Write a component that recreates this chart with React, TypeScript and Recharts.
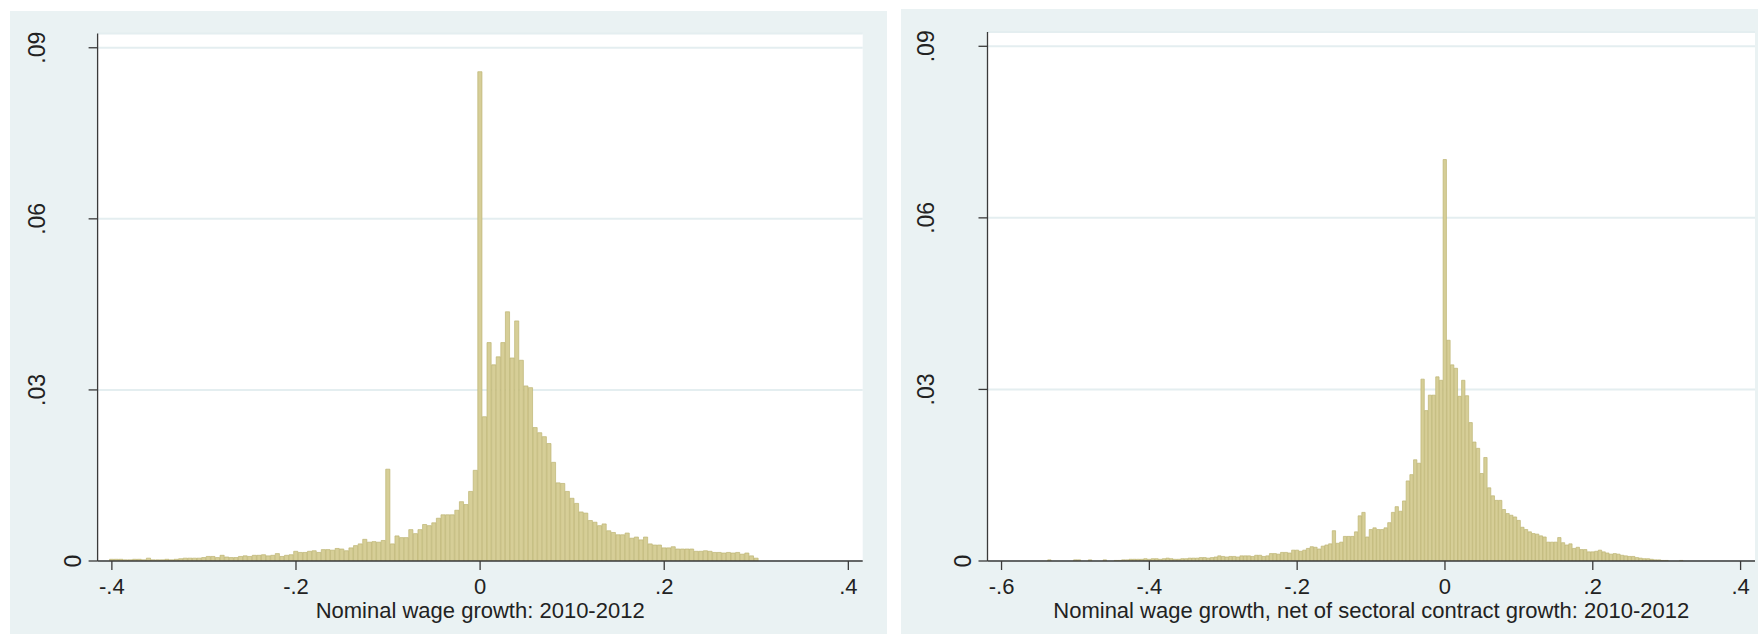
import React from 'react';
import { BarChart, Bar, XAxis, YAxis, CartesianGrid, Label } from 'recharts';

// histogram bins are 0.005 wide, centred on multiples of 0.005
const BIN_WIDTH = 0.005;

// left panel: nominal wage growth 2010-2012, bins from -0.40 to 0.30
const wageStart = -0.4;
const wageDensity = [
  0.0003, 0.0003, 0.0003, 0.0002, 0.0002, 0.0003, 0.0003, 0.0002, 0.0005, 0.0002,
  0.0002, 0.0002, 0.0003, 0.0002, 0.0003, 0.0004, 0.0005, 0.0005, 0.0005, 0.0005,
  0.0006, 0.0008, 0.0008, 0.0006, 0.001, 0.0007, 0.0006, 0.0006, 0.0008, 0.0009,
  0.0008, 0.001, 0.001, 0.0011, 0.0009, 0.001, 0.0013, 0.0008, 0.001, 0.0011,
  0.0017, 0.0015, 0.0015, 0.0017, 0.0018, 0.0015, 0.002, 0.002, 0.0019, 0.0022,
  0.0021, 0.0018, 0.0023, 0.0027, 0.003, 0.0038, 0.0033, 0.0034, 0.0033, 0.0036,
  0.0161, 0.003, 0.0044, 0.0041, 0.0041, 0.0055, 0.0048, 0.0055, 0.0064, 0.0062,
  0.0067, 0.0075, 0.0081, 0.0081, 0.0081, 0.0089, 0.0104, 0.0099, 0.0122, 0.0159,
  0.0858, 0.0253, 0.0383, 0.0344, 0.0358, 0.0383, 0.0437, 0.0356, 0.0421, 0.0352,
  0.0307, 0.0304, 0.0234, 0.0225, 0.0218, 0.0206, 0.0173, 0.0137, 0.0136, 0.0122,
  0.011, 0.0101, 0.0086, 0.0084, 0.0071, 0.0068, 0.0062, 0.0065, 0.0053, 0.005,
  0.0046, 0.0046, 0.0049, 0.004, 0.0042, 0.0037, 0.0042, 0.003, 0.0028, 0.0028,
  0.0023, 0.0023, 0.0025, 0.0021, 0.0021, 0.0021, 0.0021, 0.0017, 0.0017, 0.0018,
  0.0017, 0.0015, 0.0015, 0.0014, 0.0015, 0.0014, 0.0015, 0.0012, 0.0014, 0.0009,
  0.0005,
];

// right panel: net of sectoral contract growth, bins from -0.535 to 0.32
const netStart = -0.535;
const netDensity = [
  0.0002, 0, 0, 0, 0, 0, 0, 0.0002, 0.0002, 0,
  0, 0.0002, 0, 0, 0, 0.0002, 0, 0, 0.0001, 0.0001,
  0.0002, 0.0002, 0.0003, 0.0003, 0.0003, 0.0003, 0.0004, 0.0003, 0.0004, 0.0004,
  0.0003, 0.0004, 0.0005, 0.0004, 0.0003, 0.0003, 0.0004, 0.0004, 0.0005, 0.0005,
  0.0005, 0.0006, 0.0006, 0.0005, 0.0006, 0.0007, 0.0009, 0.0008, 0.0007, 0.0008,
  0.0008, 0.0007, 0.0009, 0.0009, 0.0009, 0.0008, 0.001, 0.001, 0.0008, 0.0009,
  0.0013, 0.0013, 0.0012, 0.0015, 0.0015, 0.0014, 0.0019, 0.0019, 0.0017, 0.0019,
  0.0022, 0.0025, 0.0024, 0.0021, 0.0026, 0.0028, 0.003, 0.0053, 0.0031, 0.0033,
  0.0043, 0.0043, 0.0043, 0.0051, 0.0079, 0.0085, 0.0042, 0.0055, 0.0058, 0.0055,
  0.0055, 0.0058, 0.0067, 0.0085, 0.0095, 0.0087, 0.0105, 0.014, 0.0151, 0.0177,
  0.0171, 0.0318, 0.0263, 0.029, 0.029, 0.0322, 0.0316,
  0.0702, 0.0386, 0.0343, 0.0337, 0.0288, 0.0316, 0.0289, 0.0242, 0.0208, 0.0197,
  0.0153, 0.0181, 0.0128, 0.0114, 0.0106, 0.0106, 0.009, 0.0083, 0.008, 0.0077,
  0.0071, 0.0059, 0.0055, 0.0051, 0.0048, 0.0047, 0.0044, 0.0042, 0.0033, 0.0033,
  0.0033, 0.0041, 0.0032, 0.0028, 0.003, 0.0022, 0.0024, 0.002, 0.002, 0.0016,
  0.0016, 0.0017, 0.0019, 0.0016, 0.0014, 0.0012, 0.0013, 0.0012, 0.001, 0.0009,
  0.0008, 0.0008, 0.0006, 0.0005, 0.0004, 0.0004, 0.0003, 0.0002, 0.0002, 0.0001,
  0.0001, 0, 0, 0, 0.0001,
];

const yTicks = [0, 0.03, 0.06, 0.09];
const wageTicks = [-0.4, -0.2, 0, 0.2, 0.4];
const netTicks = [-0.6, -0.4, -0.2, 0, 0.2, 0.4];

const wageTitle = 'Nominal wage growth: 2010-2012';
const netTitle = 'Nominal wage growth, net of sectoral contract growth: 2010-2012';

const FONT = '"Liberation Sans", Arial, Helvetica, sans-serif';
const PANEL_BG = '#eaf2f3';
const GRID = '#e4eef0';
const AXIS = '#3a3a3a';
const BAR_FILL = '#d6ce97';
const BAR_STROKE = '#bdb472';
const TEXT = '#222';
const TICK_FONT = 22;

const toBins = (start: number, values: number[]) =>
  values.map((d, i) => ({ x: +(start + i * BIN_WIDTH).toFixed(3), d }));

// stata style labels: no leading zero
const fmt = (v: number) => {
  if (v === 0) return '0';
  return String(+v.toFixed(2)).replace('0.', '.');
};

const YTick = ({ x, y, payload }: any) => {
  const label = fmt(payload.value);
  const gap = label.length > 1 ? 44 : 8;
  const tx = x - gap;
  return (
    <text
      x={tx}
      y={y}
      transform={`rotate(-90 ${tx} ${y})`}
      textAnchor="middle"
      fontSize={23}
      fontFamily={FONT}
      fill={TEXT}
    >
      {label}
    </text>
  );
};

interface HistProps {
  data: { x: number; d: number }[];
  domain: [number, number];
  ticks: number[];
  title: string;
  width: number;
  height: number;
  margin: { top: number; right: number; left: number; bottom: number };
}

const Y_AXIS_W = 80;
const X_AXIS_H = 58;

function Histogram({ data, domain, ticks, title, width, height, margin }: HistProps) {
  const plotW = width - margin.left - margin.right - Y_AXIS_W;
  const barSize = (BIN_WIDTH * plotW) / (domain[1] - domain[0]);
  return (
    <BarChart
      width={width}
      height={height}
      data={data}
      margin={margin}
      barCategoryGap={0}
      barGap={0}
    >
      <CartesianGrid vertical={false} stroke={GRID} strokeWidth={2} fill="#ffffff" />
      <XAxis
        type="number"
        dataKey="x"
        domain={domain}
        ticks={ticks}
        allowDataOverflow
        height={X_AXIS_H}
        tickFormatter={fmt}
        tickSize={9}
        tickMargin={8}
        stroke={AXIS}
        tickLine={{ stroke: AXIS, strokeWidth: 1.3 }}
        axisLine={{ stroke: AXIS, strokeWidth: 1.3 }}
        tick={{ fontSize: TICK_FONT, fontFamily: FONT, fill: TEXT }}
      >
        <Label
          value={title}
          position="insideBottom"
          offset={1}
          style={{ fontSize: 22, fontFamily: FONT, fill: TEXT }}
        />
      </XAxis>
      <YAxis
        type="number"
        domain={[0, 0.0925]}
        ticks={yTicks}
        allowDataOverflow
        width={Y_AXIS_W}
        tickSize={9}
        tickMargin={0}
        stroke={AXIS}
        tickLine={{ stroke: AXIS, strokeWidth: 1.3 }}
        axisLine={{ stroke: AXIS, strokeWidth: 1.3 }}
        tick={<YTick />}
      />
      <Bar
        dataKey="d"
        barSize={barSize}
        fill={BAR_FILL}
        stroke={BAR_STROKE}
        strokeWidth={0.7}
        isAnimationActive={false}
      />
    </BarChart>
  );
}

export default function App() {
  const wageData = toBins(wageStart, wageDensity);
  const netData = toBins(netStart, netDensity);
  return (
    <div
      style={{
        position: 'absolute',
        left: 0,
        top: 0,
        width: 1758,
        height: 641,
        background: '#ffffff',
        overflow: 'hidden',
      }}
    >
      <div style={{ position: 'absolute', left: 10, top: 11, width: 877, height: 623, background: PANEL_BG }}>
        <Histogram
          data={wageData}
          domain={[-0.4155, 0.4156]}
          ticks={wageTicks}
          title={wageTitle}
          width={877}
          height={623}
          margin={{ top: 22.5, right: 24.3, left: 7.6, bottom: 15 }}
        />
      </div>
      <div style={{ position: 'absolute', left: 901, top: 9, width: 857, height: 625, background: PANEL_BG }}>
        <Histogram
          data={netData}
          domain={[-0.619, 0.4195]}
          ticks={netTicks}
          title={netTitle}
          width={857}
          height={625}
          margin={{ top: 23, right: 3, left: 6.5, bottom: 15 }}
        />
      </div>
    </div>
  );
}
